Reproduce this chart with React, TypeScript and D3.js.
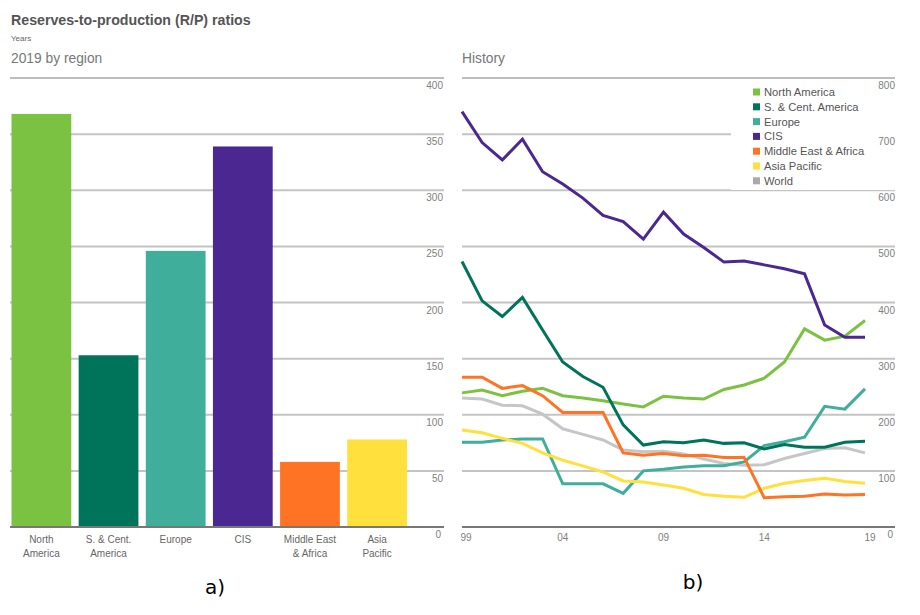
import React from "react";
import * as d3 from "d3";

const regions = ["North America", "S. & Cent. America", "Europe", "CIS", "Middle East & Africa", "Asia Pacific"];
const regionLabels = [["North", "America"], ["S. & Cent.", "America"], ["Europe"], ["CIS"], ["Middle East", "& Africa"], ["Asia", "Pacific"]];
const values2019 = [368, 153, 246, 339, 58, 78];
const barTicks = [0, 50, 100, 150, 200, 250, 300, 350, 400];

const years = [1999, 2000, 2001, 2002, 2003, 2004, 2005, 2006, 2007, 2008, 2009, 2010, 2011, 2012, 2013, 2014, 2015, 2016, 2017, 2018, 2019];
const yearTicks = [1999, 2004, 2009, 2014, 2019];
const yearTickLabels = ["99", "04", "09", "14", "19"];
const histTicks = [0, 100, 200, 300, 400, 500, 600, 700, 800];

const northAmerica = [239, 244, 234, 242, 247, 234, 230, 225, 219, 214, 233, 230, 228, 245, 253, 265, 294, 353, 333, 340, 368];
const sCentAmerica = [473, 403, 375, 409, 351, 294, 268, 249, 182, 146, 152, 150, 155, 149, 150, 139, 147, 142, 142, 151, 153];
const europe = [151, 151, 155, 157, 157, 77, 77, 77, 60, 100, 103, 107, 109, 109, 116, 145, 152, 160, 215, 210, 246];
const cis = [740, 685, 654, 691, 633, 611, 586, 555, 544, 513, 561, 522, 498, 472, 474, 467, 460, 451, 360, 338, 338];
const middleEastAfrica = [267, 267, 247, 252, 234, 204, 204, 204, 132, 128, 131, 127, 128, 124, 124, 52, 54, 55, 59, 57, 58];
const asiaPacific = [173, 168, 158, 149, 132, 119, 109, 98, 82, 80, 75, 69, 58, 55, 53, 69, 78, 83, 87, 81, 78];
const world = [230, 228, 217, 216, 201, 175, 165, 155, 137, 134, 135, 130, 121, 113, 110, 111, 122, 131, 140, 141, 132];

const colors = ["#7cc242", "#00735b", "#3fae9a", "#4b2891", "#ff7324", "#ffe03c", "#c6c6c6"];
const seriesNames = [...regions, "World"];
const seriesData = [northAmerica, sCentAmerica, europe, cis, middleEastAfrica, asiaPacific, world];

const FONT = "'Liberation Sans', Arial, sans-serif";

export default function App() {
  const y0 = 527;
  const yTop = 78;
  const yBar = d3.scaleLinear().domain([0, 400]).range([y0, yTop]);
  const xBar = d3.scaleBand<string>().domain(regions).range([11.5, 407]).paddingInner(0.11).paddingOuter(0);

  const xH = d3.scaleLinear().domain([1999, 2019]).range([462, 865]);
  const yH = d3.scaleLinear().domain([0, 800]).range([y0, yTop]);

  const lineGen = (vals: number[]) =>
    d3.line<number>().x((_, i) => xH(years[i])).y((d) => yH(d))(vals) || "";

  const gridColor = "#c4c4c4";
  const tickColor = "#808080";

  return (
    <svg width={920} height={615} style={{ position: "absolute", left: 0, top: 0, background: "#fff" }} fontFamily={FONT}>
      <text x={11} y={25} fontSize={14.2} fontWeight="bold" fill="#555">Reserves-to-production (R/P) ratios</text>
      <text x={11} y={40.5} fontSize={8} fill="#666">Years</text>
      <text x={11} y={62.5} fontSize={13.8} fill="#777">2019 by region</text>
      <text x={462} y={62.5} fontSize={13.8} fill="#777">History</text>

      {/* Left chart */}
      {barTicks.map((t) => (
        <g key={"lt" + t}>
          {t !== 0 && (
            <line x1={10} x2={444} y1={yBar(t)} y2={yBar(t)} stroke={t === 400 ? "#bdbdbd" : gridColor} strokeWidth={2} />
          )}
          <text x={t === 0 ? 441 : 443} y={yBar(t) + 11} fontSize={10} fill={tickColor} textAnchor="end">{t}</text>
        </g>
      ))}
      {regions.map((r, i) => (
        <rect key={r} x={xBar(r)} width={xBar.bandwidth()} y={yBar(values2019[i])} height={y0 - yBar(values2019[i])} fill={colors[i]} />
      ))}
      <line x1={10} x2={444} y1={y0} y2={y0} stroke="#777" strokeWidth={2} />
      {regions.map((r, i) => (
        <text key={"lab" + r} x={(xBar(r) || 0) + xBar.bandwidth() / 2} y={543} fontSize={10} fill="#666" textAnchor="middle">
          {regionLabels[i].map((l, j) => (
            <tspan key={j} x={(xBar(r) || 0) + xBar.bandwidth() / 2} dy={j === 0 ? 0 : 13.5}>{l}</tspan>
          ))}
        </text>
      ))}

      {/* Right chart */}
      {histTicks.map((t) =>
        t !== 0 ? (
          <line key={"rg" + t} x1={462} x2={895} y1={yH(t)} y2={yH(t)} stroke={t === 800 ? "#bdbdbd" : gridColor} strokeWidth={2} />
        ) : null
      )}
      <rect x={731} y={84} width={165} height={106} fill="#fff" />
      {histTicks.map((t) => (
        <text key={"rt" + t} x={t === 0 ? 893 : 895} y={yH(t) + 11} fontSize={10} fill={tickColor} textAnchor="end">{t}</text>
      ))}
      {[6, 0, 2, 1, 3, 5, 4].map((i) => (
        <path key={"ln" + i} d={lineGen(seriesData[i])} fill="none" stroke={colors[i]} strokeWidth={3} strokeLinejoin="miter" />
      ))}
      <line x1={462} x2={895} y1={y0} y2={y0} stroke="#777" strokeWidth={2} />
      {yearTicks.map((yr, i) => (
        <text key={"yt" + yr} x={xH(yr) + (i === 0 ? 4 : i === 4 ? 5 : 0)} y={541} fontSize={10} fill={tickColor} textAnchor="middle">{yearTickLabels[i]}</text>
      ))}
      {seriesNames.map((n, i) => (
        <g key={"lg" + n} transform={`translate(753, ${92 + i * 14.8})`}>
          <rect x={0} y={-3.5} width={7} height={7} fill={colors[i] === "#c6c6c6" ? "#aaaaaa" : colors[i]} />
          <text x={11} y={4} fontSize={11.2} fill="#555">{n}</text>
        </g>
      ))}

      <text x={215} y={594} fontSize={20} fill="#000" textAnchor="middle" fontFamily="'DejaVu Sans', sans-serif">a)</text>
      <text x={693} y={589} fontSize={20} fill="#000" textAnchor="middle" fontFamily="'DejaVu Sans', sans-serif">b)</text>
    </svg>
  );
}
